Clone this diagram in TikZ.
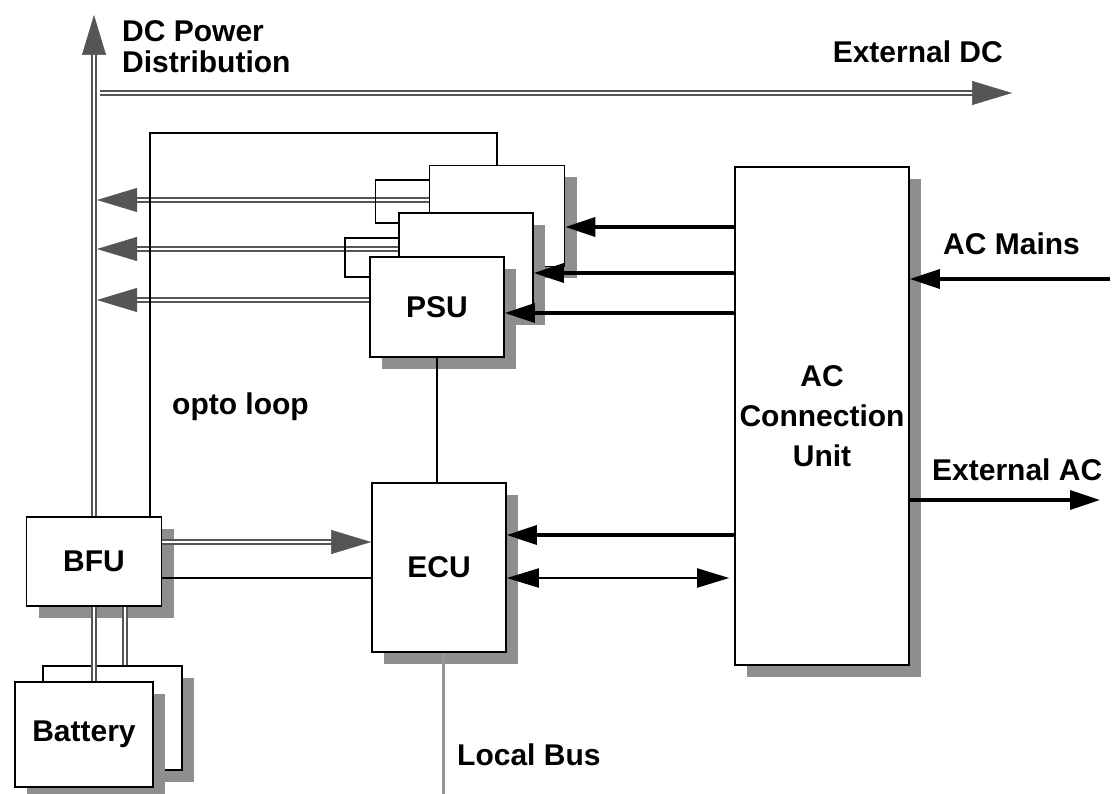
\documentclass[tikz,border=0pt]{standalone}
\usepackage{fontspec}
\setmainfont{Liberation Sans}
\usetikzlibrary{arrows.meta,calc,shadows}
\definecolor{dcgray}{RGB}{85,85,85}
\definecolor{shadegray}{RGB}{142,142,142}
\definecolor{busgray}{RGB}{150,150,150}

\begin{document}
\begin{tikzpicture}[x=1pt, y=-1pt, every node/.style={font=\bfseries\fontsize{30}{40}\selectfont}]
  \tikzset{
      unit/.style={draw, line width=1.6pt, fill=white, inner sep=0pt, align=center,
          general shadow={fill=shadegray, shadow xshift=12pt, shadow yshift=-12pt}},
      wire/.style={line width=1.5pt},
      dcline/.style={draw=dcgray, double=white, double distance=2pt, line width=1.6pt},
      dcarrow/.style={draw=white, line width=0.5pt, -{Triangle[length=40pt, width=24pt, color=dcgray]},
          preaction={dcline, -, shorten >=36pt}},
      acarrow/.style={line width=3.5pt, -{Triangle[length=30pt, width=19pt]}},
      sigarrow/.style={line width=2pt, {Triangle[length=32pt, width=19pt]}-{Triangle[length=32pt, width=19pt]}},
      txt/.style={inner sep=0pt}
  }
  \useasboundingbox (0,0) rectangle (1120,794);

  % units
  \node[unit, minimum width=174pt, minimum height=498pt] (acu) at (822,416) {AC\\Connection\\Unit};
  \node[unit, minimum width=135pt, minimum height=101pt] (psuA) at (497,216) {};
  \node[unit, minimum width=134pt, minimum height=100pt] (psuB) at (466,263) {};
  \node[unit, minimum width=134pt, minimum height=100pt] (psuC) at (437,307) {PSU};
  \node[unit, minimum width=134pt, minimum height=169pt] (ecu) at (439,567.5) {ECU};
  \node[unit, minimum width=135pt, minimum height=89pt] (bfu) at (94,561.5) {BFU};
  \node[unit, minimum width=139pt, minimum height=104pt] (batA) at (112.5,718) {};
  \node[unit, minimum width=138pt, minimum height=105pt] (batB) at (84,734.5) {Battery};

  % DC power distribution
  \coordinate (dctop) at (94,15);
  \coordinate (extdcL) at (100,93);
  \coordinate (extdcR) at (1012,93);
  \draw[dcarrow] (bfu.north) -- (dctop);
  \draw[dcarrow] (extdcL) -- (extdcR);

  \coordinate (dcA) at (97,200);
  \coordinate (dcB) at (97,249);
  \coordinate (dcC) at (97,300);
  \draw[dcarrow] (psuA.west |- dcA) -- (dcA);
  \draw[dcarrow] (psuB.west |- dcB) -- (dcB);
  \draw[dcarrow] (psuC.west |- dcC) -- (dcC);

  % opto loop
  \coordinate (optoL) at (150,133);
  \draw[wire] (bfu.north -| optoL) -- (optoL) -| (psuA.north);
  \draw[wire] ($(psuA.west)+(0,-36)$) -- ++(-53,0) |- ($(psuB.west)+(0,-40)$);
  \draw[wire] ($(psuB.west)+(0,-25)$) -- ++(-53,0) |- ($(psuC.west)+(0,-30)$);
  \draw[wire] (psuC.south) -- (psuC.south |- ecu.north);

  % AC feeds
  \coordinate (inA) at ($(psuA.east)+(0,11)$);
  \coordinate (inB) at ($(psuB.east)+(0,10)$);
  \coordinate (inC) at ($(psuC.east)+(0,6)$);
  \coordinate (inE) at ($(ecu.east)+(0,-32.5)$);
  \coordinate (busE) at ($(ecu.east)+(0,10.5)$);
  \draw[acarrow] (acu.west |- inA) -- (inA);
  \draw[acarrow] (acu.west |- inB) -- (inB);
  \draw[acarrow] (acu.west |- inC) -- (inC);
  \draw[acarrow] (acu.west |- inE) -- (inE);
  \draw[sigarrow] (busE) -- ($(acu.west |- busE)+(-5,0)$);

  \coordinate (mains) at (1110,279);
  \coordinate (extac) at (1100,500);
  \draw[acarrow] (mains) -- (acu.east |- mains);
  \draw[acarrow] (acu.east |- extac) -- (extac);

  % BFU links
  \coordinate (pwrE) at ($(bfu.east)+(0,-19.5)$);
  \coordinate (ctlE) at ($(bfu.east)+(0,16.5)$);
  \coordinate (batAtop) at ($(bfu.south)+(31,0)$);
  \draw[dcarrow] (pwrE) -- (ecu.west |- pwrE);
  \draw[wire] (ctlE) -- (ecu.west |- ctlE);
  \draw[dcline] (bfu.south) -- (bfu.south |- batB.north);
  \draw[dcline] (batAtop) -- (batAtop |- batA.north);

  % local bus
  \coordinate (lbus) at (443,794);
  \draw[busgray, line width=3pt] (ecu.south -| lbus) -- (lbus);

  % labels
  \node[txt, anchor=north west, align=left, font=\bfseries\fontsize{30}{31}\selectfont] (dctxt) at (122,20) {DC Power\\Distribution};
  \node[txt, anchor=base east] (extdctxt) at (1003,63) {External DC};
  \node[txt, anchor=base west] (mainstxt) at (943,255) {AC Mains};
  \node[txt, anchor=base west] (extactxt) at (932,480) {External AC};
  \node[txt, anchor=base west] (optotxt) at (172,414) {opto loop};
  \node[txt, anchor=base west] (lbustxt) at (457,765) {Local Bus};
\end{tikzpicture}
\end{document}
